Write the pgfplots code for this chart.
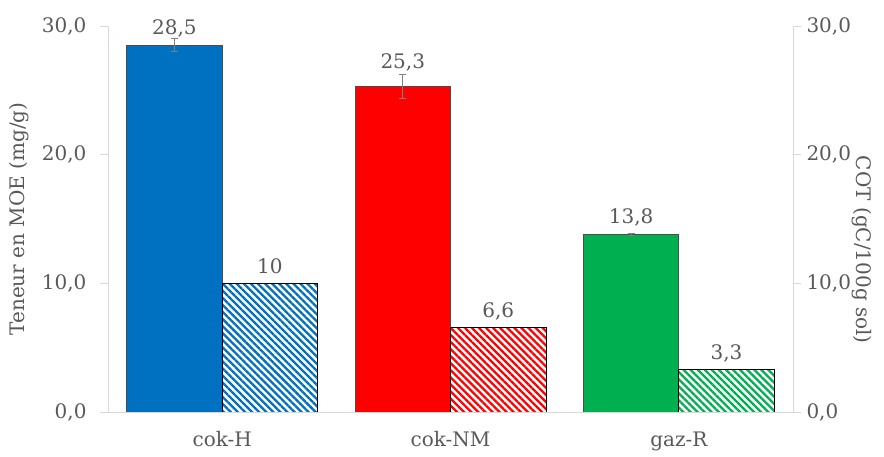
\documentclass[border=0pt]{standalone}
\usepackage{pgfplots}
\pgfplotsset{compat=1.18}
\usepackage{fontspec}
\setmainfont{DejaVu Serif}
\usetikzlibrary{patterns.meta}
\definecolor{cblue}{HTML}{0070C0}
\definecolor{cred}{HTML}{FF0000}
\definecolor{cgreen}{HTML}{00B050}
\definecolor{txt}{HTML}{595959}
\definecolor{axl}{HTML}{D9D9D9}
\pgfplotsset{
  common/.style={
    at={(0,0)}, anchor=south west,
    scale only axis, width=685bp, height=386bp,
    xmin=-0.5, xmax=2.5, ymin=0, ymax=30,
    ytick={0,10,20,30},
    tick align=outside, major tick length=8bp,
    axis line style={draw=axl, line width=0.8bp},
    y tick style={draw=axl, line width=0.8bp},
    ticklabel style={text=txt, font=\fontsize{20bp}{24bp}\selectfont},
    label style={text=txt, font=\fontsize{20bp}{24bp}\selectfont},
    /pgf/number format/.cd, use comma, fixed, precision=1, assume math mode=true,
  },
  hatch/.style={pattern={Lines[angle=-45,distance=5bp,line width=2.3bp]}, pattern color=#1, draw=black, line width=0.8bp},
  lab/.style={nodes near coords, nodes near coords style={anchor=base, yshift=#1, text=txt, font=\fontsize{20bp}{24bp}\selectfont}},
}
\begin{document}
\begin{tikzpicture}
\useasboundingbox (-108bp,-45bp) rectangle (776bp,412bp);
\begin{axis}[common,
  ybar, bar width=0.418,
  axis y line*=left, axis x line*=bottom,
  xtick={0,1,2}, xticklabels={cok-H,cok-NM,gaz-R},
  x tick style={draw=none}, xticklabel style={yshift=-8bp},
  yticklabel style={/pgf/number format/fixed zerofill, xshift=-10bp},
  ylabel={Teneur en MOE (mg/g)},
  ylabel style={at={(axis description cs:-0.1300,0.5)}, anchor=center},
  error bars/error bar style={draw=gray, line width=0.8bp},
  error bars/error mark options={draw=gray, line width=0.8bp, mark size=3.5bp, rotate=90},
]
\addplot[fill=cblue, draw=black!70, line width=0.8bp, bar shift=-0.209, lab=11bp,
  error bars/.cd, y dir=both, y explicit] coordinates {(0,28.5) +- (0,0.5)};
\addplot[hatch=cblue, bar shift=0.209, lab=10bp] coordinates {(0,10)};
\addplot[fill=cred, draw=black!70, line width=0.8bp, bar shift=-0.209, lab=18bp,
  error bars/.cd, y dir=both, y explicit] coordinates {(1,25.3) +- (0,0.9)};
\addplot[hatch=cred, bar shift=0.209, lab=10bp] coordinates {(1,6.6)};
\addplot[fill=cgreen, draw=black!70, line width=0.8bp, bar shift=-0.209, lab=11bp,
  error bars/.cd, y dir=both, y explicit] coordinates {(2,13.8) +- (0,0.05)};
\addplot[hatch=cgreen, bar shift=0.209, lab=10bp] coordinates {(2,3.3)};
\end{axis}
\begin{axis}[common,
  axis y line*=right, axis x line=none,
  yticklabel style={/pgf/number format/fixed zerofill, xshift=2bp},
  ylabel={COT (gC/100g sol)},
  ylabel style={at={(axis description cs:1.1,0.42)}, anchor=center, rotate=180},
]
\addplot[draw=none] coordinates {(0,0)};
\end{axis}
\end{tikzpicture}
\end{document}
